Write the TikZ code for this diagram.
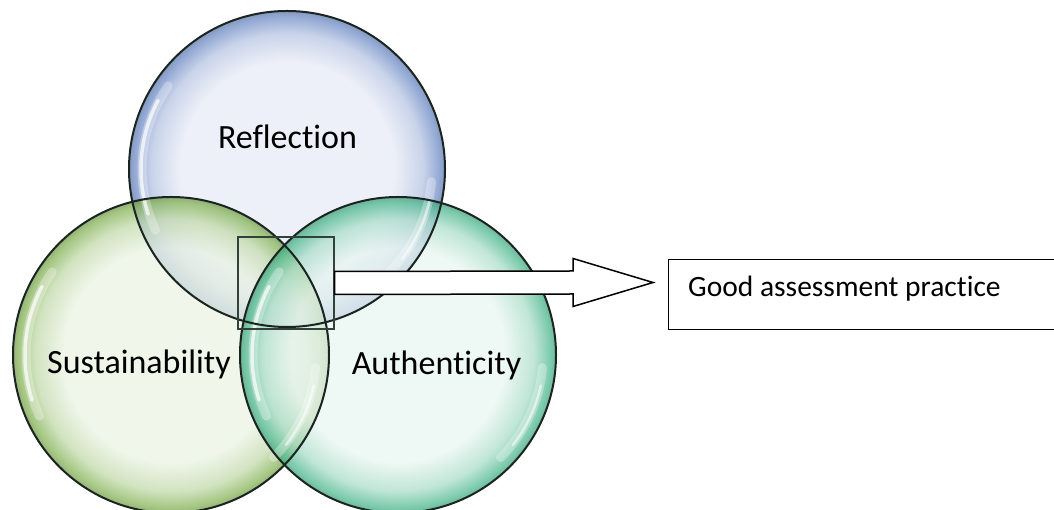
\documentclass[tikz,border=0pt]{standalone}
\usepackage{fontspec}
\setmainfont{Carlito}[Ligatures={NoCommon,NoRequired,NoContextual}]
\usetikzlibrary{calc}
\definecolor{cB}{HTML}{E7EBF6}
\definecolor{rB}{HTML}{6F8CC6}
\definecolor{cG}{HTML}{EBF4E4}
\definecolor{rG}{HTML}{86B458}
\definecolor{cT}{HTML}{E9F6F1}
\definecolor{rT}{HTML}{4FB990}
\definecolor{rimline}{HTML}{1A2420}
\definecolor{selline}{HTML}{33413B}
\pgfdeclareradialshading{bubB}{\pgfpoint{0bp}{0bp}}{color(0bp)=(cB); color(17bp)=(cB); color(21.5bp)=(cB!60!rB); color(24.2bp)=(rB); color(25bp)=(rB!85!black); color(50bp)=(rB!85!black)}
\pgfdeclareradialshading{bubG}{\pgfpoint{0bp}{0bp}}{color(0bp)=(cG); color(17bp)=(cG); color(21.5bp)=(cG!60!rG); color(24.2bp)=(rG); color(25bp)=(rG!85!black); color(50bp)=(rG!85!black)}
\pgfdeclareradialshading{bubT}{\pgfpoint{0bp}{0bp}}{color(0bp)=(cT); color(17bp)=(cT); color(21.5bp)=(cT!60!rT); color(24.2bp)=(rT); color(25bp)=(rT!85!black); color(50bp)=(rT!85!black)}
\tikzset{
  bubble/.style={circle, minimum size=316pt, inner sep=0pt, shade, fill opacity=0.75},
  rim/.style={draw=rimline, line width=2pt},
  glosswide/.style={draw=white, line width=9pt, opacity=0.3, line cap=round},
  gloss/.style={draw=white, line width=3.5pt, opacity=0.7, line cap=round},
  biglabel/.style={anchor=base, inner sep=0pt, font=\fontsize{34}{40}\selectfont},
  smalllabel/.style={anchor=base west, inner sep=0pt, font=\fontsize{29.5}{35}\selectfont},
  selbox/.style={draw=selline, line width=1.3pt, minimum width=96pt, minimum height=92pt, inner sep=0pt},
  outbox/.style={draw=black, fill=white, line width=1.4pt, anchor=north west, minimum width=420pt, minimum height=70pt, inner sep=0pt},
  arrowshape/.style={draw=black, fill=white, line width=1.5pt, line join=miter}
}
\begin{document}
\begin{tikzpicture}[x=1pt,y=1pt]
\useasboundingbox (0,0) rectangle (1054,510);
\clip (0,0) rectangle (1054,510);
\fill[white] (0,0) rectangle (1054,510);
% bubbles
\node[bubble, shading=bubB] (refl) at (287,341) {};
\node[bubble, shading=bubG] (sust) at (171,155) {};
\node[bubble, shading=bubT] (auth) at (398,155) {};
% gloss highlights
\foreach \c in {refl,sust,auth}{
  \draw[glosswide] ($(\c.center)+(145:145)$) arc[start angle=145, end angle=205, radius=145];
  \draw[gloss] ($(\c.center)+(152:146)$) arc[start angle=152, end angle=198, radius=146];
  \draw[glosswide] ($(\c.center)+(-45:145)$) arc[start angle=-45, end angle=-5, radius=145];
  \draw[gloss, line width=2.5pt, opacity=0.55] ($(\c.center)+(-38:146)$) arc[start angle=-38, end angle=-12, radius=146];
}
% outlines
\draw[rim] (refl.center) circle[radius=158];
\draw[rim] (sust.center) circle[radius=158];
\draw[rim] (auth.center) circle[radius=158];
% labels
\node[biglabel] (lrefl) at (287.5,361.7) {Reflection};
\node[biglabel] (lsust) at (139,136.7) {Sustainability};
\node[biglabel] (lauth) at (436.5,135.7) {Authenticity};
% selection box
\node[selbox] (sel) at (286,227) {};
% output box
\node[outbox] (out) at (668,251) {};
\node[smalllabel] (outtext) at (688,213.3) {Good assessment practice};
% arrow
\coordinate (tip) at (653,227.5);
\coordinate (neck) at (573,227.5);
\draw[arrowshape] ($(sel.east)+(0,11.5)$) -- ($(neck)+(0,11.5)$) -- ($(neck)+(0,24)$) -- (tip)
  -- ($(neck)+(0,-24)$) -- ($(neck)+(0,-11.5)$) -- ($(sel.east)+(0,-11.5)$) -- cycle;
\end{tikzpicture}
\end{document}
